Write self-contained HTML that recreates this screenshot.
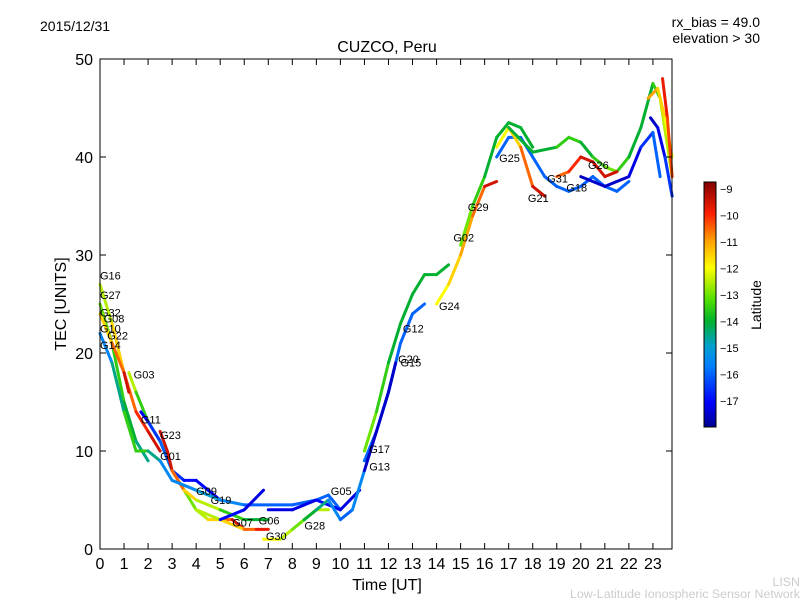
<!DOCTYPE html>
<html><head><meta charset="utf-8"><style>
body{margin:0;background:#fff;}
svg text{font-family:"Liberation Sans","DejaVu Sans",sans-serif;}
</style></head><body>
<svg id="c" width="800" height="600" xmlns="http://www.w3.org/2000/svg">
<rect width="800" height="600" fill="#fff"/>
<text x="40" y="31" font-size="14">2015/12/31</text>
<text x="760" y="27" font-size="14" text-anchor="end">rx_bias = 49.0</text>
<text x="760" y="43" font-size="14" text-anchor="end">elevation &gt; 30</text>
<text x="387" y="52" font-size="16" text-anchor="middle">CUZCO, Peru</text>
<g id="marks"></g>
<g id="labels"></g>
<rect x="100" y="59" width="572" height="490" fill="none" stroke="#000" stroke-width="1"/>
<g id="axes"></g>
<text x="387" y="590" font-size="16" text-anchor="middle">Time [UT]</text>
<text transform="translate(66,304) rotate(-90)" font-size="16" text-anchor="middle">TEC [UNITS]</text>
<defs><linearGradient id="jet" x1="0" y1="1" x2="0" y2="0">
<stop offset="0" stop-color="#00008f"/><stop offset="0.1" stop-color="#0000ff"/><stop offset="0.25" stop-color="#0080ff"/><stop offset="0.33" stop-color="#00a0d0"/><stop offset="0.43" stop-color="#00b030"/><stop offset="0.52" stop-color="#50e000"/><stop offset="0.6" stop-color="#c0f000"/><stop offset="0.65" stop-color="#ffff00"/><stop offset="0.76" stop-color="#ffa000"/><stop offset="0.87" stop-color="#ff2000"/><stop offset="1" stop-color="#800000"/></linearGradient></defs>
<rect x="704" y="182" width="12" height="245" fill="url(#jet)" stroke="#000" stroke-width="1"/>
<g id="cbticks"></g>
<text transform="translate(761,305) rotate(-90)" font-size="14" text-anchor="middle">Latitude</text>
<text x="800" y="586" font-size="12.4" fill="#ccc" text-anchor="end">LISN</text>
<text x="800" y="598" font-size="12.4" fill="#ccc" text-anchor="end">Low-Latitude Ionospheric Sensor Network</text>
</svg>
<script>
const xTicks=[0,1,2,3,4,5,6,7,8,9,10,11,12,13,14,15,16,17,18,19,20,21,22,23];
const yTicks=[0,10,20,30,40,50];
const cbTicks=[-9,-10,-11,-12,-13,-14,-15,-16,-17];
const trackTimes=[
[0,0.5,1,1.5,2,2.5],[0,0.5,1,1.5,2],[0,0.5,1,1.2],[0,0.5,1,1.5,2,2.5,3],
[1.2,1.5,2,2.5,3,3.5,4,4.5,5,5.5,6],[1.7,2,2.5,3,3.5,4,4.5,5],[2.5,2.8,3,3.5,4,5,6,7],
[3,4,5,6,7,8,9,9.5,10],[4,5,6,6.5,7],[5,6,6.8],[6.8,7.5,8,8.5,9,9.5],[7,8,9,10,10.8],
[8.5,9,9.5,10,10.5,11],[11,11.5,12,12.5,13,13.5],[11,11.5,12,12.5,13,13.5,14,14.5],[11,11.5,12,12.3],
[14,14.5,15,15.5,16,16.5],[15,15.5,16,16.5,17,17.5,18],[16.5,17,17.5,18,18.5,19,19.5,20,20.5,21,21.5,22],
[16.5,17,17.5,18,18.5],[17,18,19,19.5,20,20.5,21,21.5,22,22.5,23,23.3,23.8],[19,19.5,20,20.5,21,21.5],
[20,21,22,22.5,23,23.3],[22.8,23.2,23.5,23.8],[22.9,23.2,23.5,23.8],[23.4,23.6,23.8]];
const trackTec=[
[27,23,18,14,12,10],[25,21,15,11,9],[24,21,18,16],[22,19,14,10,10,9,7],
[18,16,13,11,8,6,4,3,3,3,2],[14,13,11,8,7,7,6,5],[12,10,8,6,5,4,3,3],
[7,6,5,4.5,4.5,4.5,5,5.5,4],[4,3,2,2,2],[3,4,6],[1,1,2,3,4,4],[4,4,5,4,6],
[3,4,5,3,4,8],[9,12,16,21,24,25],[10,14,19,23,26,28,28,29],[8,12,16,19],
[25,27,30,34,37,37.5],[31,35,38,42,43.5,43,41],[40,42,42,40,38,37,36.5,37,38,37,36.5,37.5],
[41,43,41,37,36],[43,40.5,41,42,41.5,40,39,38.5,40,43,47.5,46,38],[38,38.5,40,39.5,38,38.5],
[38,37,38,41,42.5,38],[46,47,44,40],[44,43,40,36],[48,44,38]];
const trackLat=[
[-13,-12,-11,-10,-10,-9],[-13,-13,-14,-14,-15],[-12,-11,-10,-9],[-16,-15,-14,-13,-14,-15,-16],
[-12,-13,-14,-14,-13,-13,-13,-12,-11,-10,-9],[-17,-17,-16,-16,-17,-17,-17,-17],[-10,-9,-10,-11,-12,-13,-14,-14],
[-16,-15,-15,-16,-16,-16,-16,-16,-16],[-13,-12,-11,-10,-9.5],[-17,-17,-17.5],[-12,-12,-13,-13,-13,-12],[-17,-17.5,-17,-17,-17.5],
[-14,-14,-15,-16,-16,-15],[-16,-16,-16,-16,-16,-16],[-13,-13,-14,-14,-14,-14,-14,-14],[-17.5,-17.5,-17.5,-17.5],
[-12,-12,-11,-11,-10,-9],[-13,-13,-14,-14,-14,-14,-14],[-16,-16,-16,-16,-16,-16,-16,-16,-16,-16,-16,-16],
[-12,-12,-11,-10,-9],[-14,-14,-14,-13,-14,-14,-13,-13,-14,-14,-14,-13,-12],[-11,-10,-10,-9,-10,-9],
[-17.5,-17.5,-17.5,-17,-16,-16],[-11,-11,-12,-12],[-17.5,-17.5,-17,-16],[-9.5,-10,-10.5]];
const satNames=["G16","G27","G32","G08","G10","G22","G14","G03","G11","G23","G01","G09","G19","G07","G06","G30","G28","G05","G17","G13","G20","G15","G12","G24","G02","G29","G25","G21","G31","G18","G26"];
const satTime=[0,0,0,0.15,0,0.3,0,1.4,1.7,2.5,2.5,4,4.6,5.5,6.6,6.9,8.5,9.6,11.2,11.2,12.4,12.5,12.6,14.1,14.7,15.3,16.6,17.8,18.6,19.4,20.3];
const satTec=[27.5,25.5,23.7,23.1,22.1,21.4,20.4,17.4,12.8,11.2,9.1,5.5,4.6,2.3,2.5,0.9,2.0,5.5,9.8,8.0,19.0,18.6,22.1,24.4,31.4,34.5,39.5,35.4,37.4,36.5,38.8];
const X=t=>100+t*24.04, Y=v=>549-v*9.8;
const NS="http://www.w3.org/2000/svg";
const cStops=[[0,[0,0,143]],[0.1,[0,0,255]],[0.25,[0,128,255]],[0.33,[0,160,208]],[0.43,[0,176,48]],[0.52,[80,224,0]],[0.6,[192,240,0]],[0.65,[255,255,0]],[0.76,[255,160,0]],[0.87,[255,32,0]],[1,[128,0,0]]];
function jet(l){let f=(l+17.98)/9.24;f=Math.max(0,Math.min(1,f));
 for(let i=0;i<cStops.length-1;i++){const a=cStops[i],b=cStops[i+1];if(f<=b[0]){const u=(f-a[0])/(b[0]-a[0]);
  return 'rgb('+a[1].map((c,j)=>Math.round(c+(b[1][j]-c)*u)).join(',')+')';}}
 return 'rgb(128,0,0)';}
const marks=document.getElementById('marks');
trackTimes.forEach((ts,i)=>{const g=document.createElementNS(NS,'g');
 
 
 for(let k=0;k<ts.length-1;k++){const l=document.createElementNS(NS,'line');
  l.setAttribute('x1',X(ts[k]));l.setAttribute('y1',Y(trackTec[i][k]));l.setAttribute('x2',X(ts[k+1]));l.setAttribute('y2',Y(trackTec[i][k+1]));
  l.setAttribute('stroke',jet((trackLat[i][k]+trackLat[i][k+1])/2));l.setAttribute('stroke-width','3');l.setAttribute('stroke-linecap','round');
  
  
  g.appendChild(l);}
 marks.appendChild(g);});
const lab=document.getElementById('labels');
satNames.forEach((n,i)=>{const t=document.createElementNS(NS,'text');
 t.setAttribute('x',X(satTime[i]));t.setAttribute('y',Y(satTec[i]));t.setAttribute('font-size','11');t.textContent=n;
 
 
 lab.appendChild(t);});
const ax=document.getElementById('axes');
function add(tag,attrs,txt){const e=document.createElementNS(NS,tag);for(const k in attrs)e.setAttribute(k,attrs[k]);if(txt!==undefined)e.textContent=txt;ax.appendChild(e);return e;}
xTicks.forEach(v=>{add('line',{x1:X(v),x2:X(v),y1:549,y2:543,stroke:'#000'});add('line',{x1:X(v),x2:X(v),y1:59,y2:65,stroke:'#000'});
 const t=add('text',{x:X(v),y:569,'font-size':16,'text-anchor':'middle'},v);
 
 });
yTicks.forEach(v=>{add('line',{x1:100,x2:106,y1:Y(v),y2:Y(v),stroke:'#000'});add('line',{x1:672,x2:666,y1:Y(v),y2:Y(v),stroke:'#000'});
 const t=add('text',{x:93,y:Y(v)+6,'font-size':16,'text-anchor':'end'},v);
 
 });
cbTicks.forEach(v=>{const y=182+(-8.74-v)*26.5;
 add('line',{x1:704,x2:708,y1:y,y2:y,stroke:'#000'});add('line',{x1:716,x2:712,y1:y,y2:y,stroke:'#000'});
 const t=add('text',{x:720,y:y+4,'font-size':11},'\u2212'+(-v));
 
 });
</script>
</body></html>
